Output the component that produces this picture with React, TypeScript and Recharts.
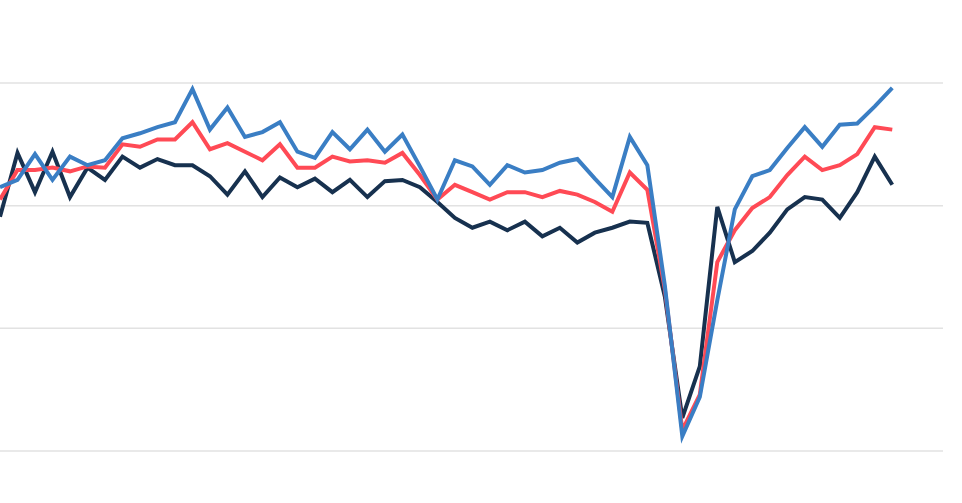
import React from "react";
import { LineChart, Line, XAxis, YAxis, CartesianGrid } from "recharts";

// Period index (quarters) along the x axis
const periods: number[] = Array.from({ length: 52 }, (_, i) => i);

const darkSeries: number[] = [
  -0.9, 4.3, 1.1, 4.4, 0.7, 3.1, 2.1, 4.0, 3.1, 3.8,
  3.3, 3.3, 2.4, 0.9, 2.8, 0.7, 2.3, 1.5, 2.2, 1.1,
  2.1, 0.7, 2.0, 2.1, 1.5, 0.3, -1.0, -1.8, -1.3, -2.0,
  -1.3, -2.5, -1.8, -3.0, -2.2, -1.8, -1.3, -1.4, -7.4, -17.3,
  -13.1, -0.1, -4.6, -3.7, -2.2, -0.3, 0.7, 0.5, -1.0, 1.1,
  4.0, 1.7,
];

const redSeries: number[] = [
  0.5, 2.9, 2.9, 3.1, 2.8, 3.2, 3.1, 5.0, 4.8, 5.4,
  5.4, 6.8, 4.6, 5.1, 4.4, 3.7, 5.0, 3.1, 3.1, 4.0,
  3.6, 3.7, 3.5, 4.3, 2.5, 0.5, 1.7, 1.1, 0.5, 1.1,
  1.1, 0.7, 1.2, 0.9, 0.3, -0.5, 2.7, 1.3, -6.8, -18.3,
  -15.4, -4.6, -2.0, -0.2, 0.7, 2.5, 4.0, 2.9, 3.3, 4.2,
  6.4, 6.2,
];

const blueSeries: number[] = [
  1.5, 2.1, 4.2, 2.1, 4.0, 3.3, 3.7, 5.5, 5.9, 6.4,
  6.8, 9.5, 6.2, 8.0, 5.6, 6.0, 6.8, 4.4, 3.9, 6.0,
  4.6, 6.2, 4.4, 5.8, 3.2, 0.5, 3.7, 3.2, 1.7, 3.3,
  2.7, 2.9, 3.5, 3.8, 2.2, 0.7, 5.6, 3.3, -6.5, -18.8,
  -15.6, -7.7, -0.3, 2.4, 2.9, 4.7, 6.4, 4.8, 6.6, 6.7,
  8.1, 9.6,
];

const yTicks: number[] = [-20, -10, 0, 10];

const data = periods.map((p, i) => ({
  i: p,
  dark: darkSeries[i],
  red: redSeries[i],
  blue: blueSeries[i],
}));

export default function App() {
  return (
    <div style={{ position: "absolute", left: 0, top: 0, width: 962, height: 503, background: "#fff" }}>
      <LineChart
        width={962}
        height={503}
        data={data}
        margin={{ top: 83, right: 19, bottom: 52, left: 0 }}
      >
        <CartesianGrid vertical={false} stroke="#e2e2e2" strokeWidth={1.5} />
        <XAxis dataKey="i" type="number" domain={[0, 53.9]} hide allowDataOverflow />
        <YAxis type="number" domain={[-20, 10]} ticks={yTicks} hide width={0} />
        <Line
          type="linear"
          dataKey="dark"
          stroke="#17314f"
          strokeWidth={4}
          dot={false}
          isAnimationActive={false}
        />
        <Line
          type="linear"
          dataKey="red"
          stroke="#ff4a55"
          strokeWidth={4}
          dot={false}
          isAnimationActive={false}
        />
        <Line
          type="linear"
          dataKey="blue"
          stroke="#3a7ec4"
          strokeWidth={4}
          dot={false}
          isAnimationActive={false}
        />
      </LineChart>
    </div>
  );
}
